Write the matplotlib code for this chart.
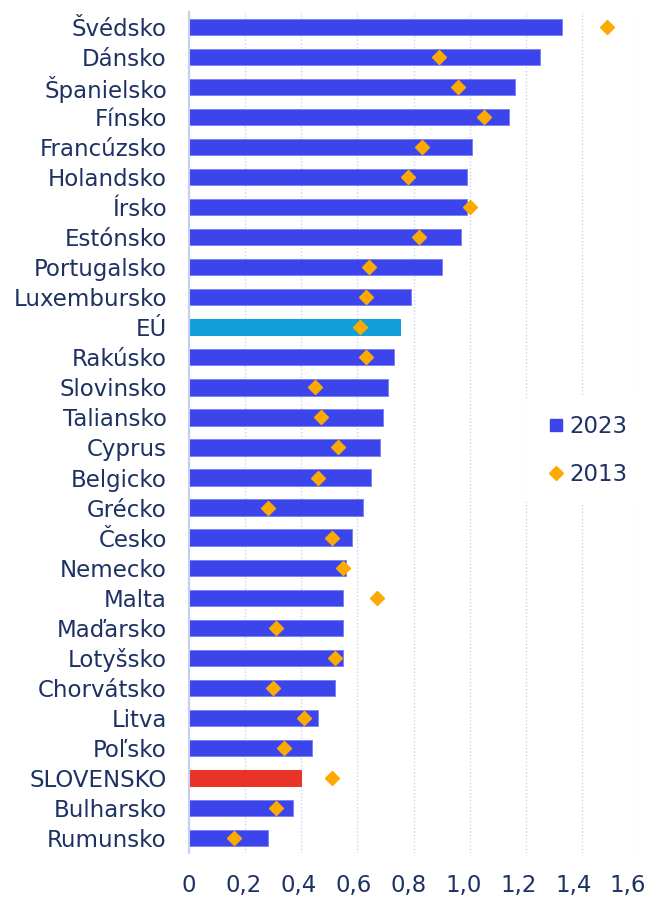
import matplotlib.pyplot as plt
from matplotlib.lines import Line2D
import matplotlib.transforms as mtransforms
import numpy as np

countries = ['Švédsko', 'Dánsko', 'Španielsko', 'Fínsko', 'Francúzsko', 'Holandsko',
             'Írsko', 'Estónsko', 'Portugalsko', 'Luxembursko', 'EÚ', 'Rakúsko',
             'Slovinsko', 'Taliansko', 'Cyprus', 'Belgicko', 'Grécko', 'Česko',
             'Nemecko', 'Malta', 'Maďarsko', 'Lotyšsko', 'Chorvátsko', 'Litva',
             'Poľsko', 'SLOVENSKO', 'Bulharsko', 'Rumunsko']
v2023 = [1.33, 1.25, 1.16, 1.14, 1.01, 0.99, 0.99, 0.97, 0.90, 0.79, 0.75, 0.73,
         0.71, 0.69, 0.68, 0.65, 0.62, 0.58, 0.56, 0.55, 0.55, 0.55, 0.52, 0.46,
         0.44, 0.40, 0.37, 0.28]
v2013 = [1.49, 0.89, 0.96, 1.05, 0.83, 0.78, 1.00, 0.82, 0.64, 0.63, 0.61, 0.63,
         0.45, 0.47, 0.53, 0.46, 0.28, 0.51, 0.55, 0.67, 0.31, 0.52, 0.30, 0.41,
         0.34, 0.51, 0.31, 0.16]
xticks = [0, 0.2, 0.4, 0.6, 0.8, 1.0, 1.2, 1.4, 1.6]
xticklabels = ['0', '0,2', '0,4', '0,6', '0,8', '1,0', '1,2', '1,4', '1,6']

BLUE = '#3c44ec'
EU = '#119fd8'
RED = '#e83326'
ORANGE = '#fcaa00'
NAVY = '#1d3163'
FS = 16.5

plt.rcParams['font.family'] = ['DejaVu Sans']

fig = plt.figure(figsize=(6.49, 8.99), dpi=100)
ax = fig.add_axes([0.2912, 0.0512, 0.692, 0.9355])

y = np.arange(len(countries))
colors = []
edges = []
for c in countries:
    if c == 'EÚ':
        colors.append(EU)
        edges.append(EU)
    elif c == 'SLOVENSKO':
        colors.append(RED)
        edges.append(RED)
    else:
        colors.append(BLUE)
        edges.append('#7d83f3')
ax.barh(y, v2023, height=0.54, color=colors, edgecolor=edges, linewidth=0.7, zorder=2)
ax.plot(v2013, y, linestyle='none', marker='D', ms=7.5, color=ORANGE, zorder=3)

ax.set_xlim(0, 1.6)
ax.set_ylim(27.5, -0.5)
ax.set_yticks(y)
ax.set_yticklabels(countries)
ax.set_xticks(xticks)
ax.set_xticklabels(xticklabels)
ax.tick_params(axis='both', length=0, labelsize=FS, colors=NAVY)
ax.tick_params(axis='y', pad=16)
ax.tick_params(axis='x', pad=15)

# x labels sit slightly left of their gridlines in the original
for val, lab in zip(xticks, ax.get_xticklabels()):
    shift = -val / 1.6 * 10 / 100
    lab.set_transform(lab.get_transform() +
                      mtransforms.ScaledTranslation(shift, 0, fig.dpi_scale_trans))

ax.grid(axis='x', linestyle=(0, (1, 1.5)), color='#cdd2f2', linewidth=1, zorder=0)
for s in ['top', 'right', 'bottom']:
    ax.spines[s].set_visible(False)
ax.spines['left'].set_color('#c6cff0')
ax.spines['left'].set_linewidth(1.5)

handles = [Line2D([], [], linestyle='none', marker='s', ms=9, color=BLUE),
           Line2D([], [], linestyle='none', marker='D', ms=7.5, color=ORANGE)]
leg = ax.legend(handles, ['2023', '2013'], loc='center left', bbox_to_anchor=(0.725, 0.479),
                frameon=True, framealpha=1, fontsize=FS,
                labelspacing=1.1, handletextpad=0.1, handlelength=1.0, borderpad=0.8)
leg.get_frame().set_linewidth(0)
for t in leg.get_texts():
    t.set_color(NAVY)

plt.savefig('out.png', dpi=100)
